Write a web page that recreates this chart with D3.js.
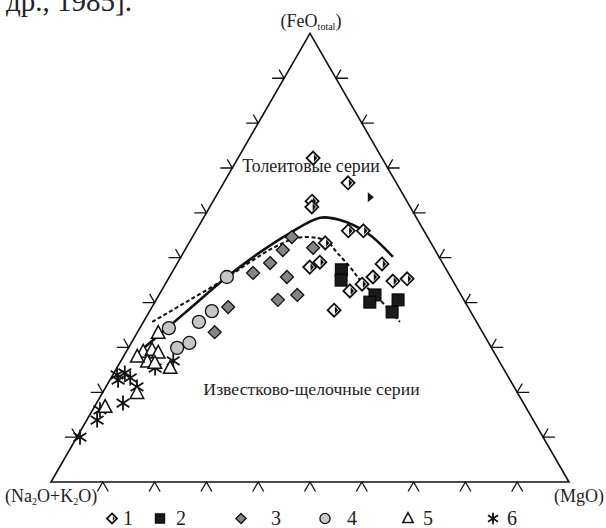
<!DOCTYPE html>
<html><head><meta charset="utf-8">
<script src="https://cdn.jsdelivr.net/npm/d3@7"></script>
<style>body{margin:0;background:#fff}svg{display:block}</style>
</head><body>
<svg id="c" width="606" height="528" font-family="'Liberation Serif', 'Times New Roman', 'DejaVu Serif', serif" fill="#222"></svg>
<script>
// Ternary AFM diagram: values are [FeO, MgO] in %, (Na2O+K2O) = 100 - FeO - MgO
const tickValues = [10,20,30,40,50,60,70,80,90];
const seriesNames = ["1","2","3","4","5","6"];
const solidCurve = [[29.7,2.9],[37.7,7.0],[45.7,11.1],[51.7,15.1],[55.5,18.4],[58.9,22.5],[58.4,26.6],[55.5,33.3],[50.2,40.9]];
const dashedCurve = [[35.7,1.7],[40.4,6.3],[45.3,11.0],[49.0,13.9],[52.2,16.8],[54.4,20.3],[54.4,24.2],[53.5,26.7],[51.1,29.7],[47.9,33.8],[44.4,37.9],[40.6,43.2],[35.7,49.5]];
const s1 = [[72.2,14.5],[66.7,24.0],[62.6,19.1],[61.3,19.7],[56.0,29.4],[56.0,32.3],[53.3,26.3],[47.9,26.0],[49.0,27.4],[48.6,39.6],[45.7,39.3],[44.1,38.0],[42.6,36.4],[44.8,43.6],[45.3,46.1],[38.3,35.5]];
const s1Fragment = [[63.5,29.8]];
const s2 = [[47.3,32.4],[45.0,33.5],[41.7,41.7],[40.1,41.5],[40.6,46.7],[37.9,46.9]];
const s3 = [[54.6,19.2],[51.7,18.9],[48.8,17.9],[46.6,15.7],[45.7,22.7],[52.2,24.5],[40.6,23.5],[41.7,26.7],[39.0,14.7],[33.4,14.9]];
const s4 = [[45.7,11.1],[38.1,12.0],[35.7,10.7],[34.3,5.6],[31.0,11.2],[29.9,9.4]];
const s5 = [[33.2,4.1],[29.0,3.3],[29.4,4.8],[28.8,6.3],[26.8,5.2],[26.5,6.8],[25.4,10.3],[27.9,2.7],[19.8,6.7],[16.7,2.1]];
const s6 = [[24.3,2.1],[22.7,1.6],[23.2,3.7],[21.2,6.0],[17.6,5.1],[16.1,1.4],[13.8,2.0],[10.0,0.6],[25.4,7.4],[27.0,10.1],[23.9,0.8]];

const svg = d3.select("#c");
const X = d3.scaleLinear().domain([0,100]).range([51,569]);
const Y = d3.scaleLinear().domain([0,100]).range([482,33.4]);
const px = d => X(d[1] + d[0]/2), py = d => Y(d[0]);

// triangle
const corners = [[0,0],[100,0],[0,100]]; // [F,M]
svg.append("path").attr("d", d3.line().x(px).y(py)(corners)+"Z")
  .attr("fill","none").attr("stroke","#111").attr("stroke-width",1.6);

// ticks
const tk = svg.append("g").attr("stroke","#111").attr("stroke-width",1.3).attr("fill","none");
const L1 = 12, L2 = 10, s3h = Math.sqrt(3)/2;
tickValues.forEach(t => {
  let p = [0,t], x = px(p), y = py(p);
  tk.append("path").attr("d",`M${x-5.5},${y+9.5}L${x},${y}L${x+5.5},${y+9.5}`);
  p = [t,0]; x = px(p); y = py(p);
  tk.append("path").attr("d",`M${x-L1},${y}L${x},${y}L${x-L2*0.5},${y-L2*s3h}`);
  p = [t,100-t]; x = px(p); y = py(p);
  tk.append("path").attr("d",`M${x+L1},${y}L${x},${y}L${x+L2*0.5},${y-L2*s3h}`);
});

// curves
const line = d3.line().x(px).y(py).curve(d3.curveCatmullRom.alpha(0.5));
svg.append("path").attr("d",line(solidCurve)).attr("fill","none").attr("stroke","#111").attr("stroke-width",2.6);
svg.append("path").attr("d",line(dashedCurve)).attr("fill","none").attr("stroke","#111").attr("stroke-width",2).attr("stroke-dasharray","4,2.5");

// field labels
svg.append("text").attr("x",311).attr("y",172).attr("text-anchor","middle").attr("font-size",17.8).text("Толеитовые серии");
svg.append("text").attr("x",311.5).attr("y",395).attr("text-anchor","middle").attr("font-size",17.7).text("Известково-щелочные серии");

function sym(g, type, x, y, k){
  k = k || 1;
  if(type==="1"){
    const r=6.5*k;
    g.append("path").attr("d",`M${x},${y-r}L${x+r},${y}L${x},${y+r}L${x-r},${y}Z`).attr("fill","#fff").attr("stroke","#111").attr("stroke-width",1.8);
    g.append("path").attr("d",`M${x+0.8},${y-r+2.6}L${x+r-2.4},${y}L${x+0.8},${y+r-2.6}Z`).attr("fill","#111");
  } else if(type==="1f"){
    g.append("path").attr("d",`M${x-2},${y-5}L${x+4},${y}L${x-2},${y+5}Z`).attr("fill","#111");
  } else if(type==="2"){
    const r=6*k;
    g.append("rect").attr("x",x-r).attr("y",y-r).attr("width",2*r).attr("height",2*r).attr("fill","#1a1a1a").attr("stroke","#000").attr("stroke-width",1);
  } else if(type==="3"){
    const r=6.5*k;
    g.append("path").attr("d",`M${x},${y-r}L${x+r},${y}L${x},${y+r}L${x-r},${y}Z`).attr("fill","#858585").attr("stroke","#111").attr("stroke-width",1.3);
  } else if(type==="4"){
    g.append("circle").attr("cx",x).attr("cy",y).attr("r",6.5*k).attr("fill","#c6c6c6").attr("stroke","#111").attr("stroke-width",1.3);
  } else if(type==="5"){
    const r=7.5*k;
    g.append("path").attr("d",`M${x},${y-r}L${x+r*0.9},${y+r*0.7}L${x-r*0.9},${y+r*0.7}Z`).attr("fill","#fff").attr("stroke","#111").attr("stroke-width",1.5);
  } else if(type==="6"){
    const r=7.5*k;
    g.append("path").attr("d",`M${x},${y-r}L${x},${y+r}M${x-r*0.85},${y-r*0.55}L${x+r*0.85},${y+r*0.55}M${x-r*0.85},${y+r*0.55}L${x+r*0.85},${y-r*0.55}`).attr("stroke","#111").attr("stroke-width",1.8).attr("fill","none");
  }
}

const pts = svg.append("g");
[["6",s6],["5",s5],["4",s4],["3",s3],["2",s2],["1",s1],["1f",s1Fragment]].forEach(([t,arr])=>{
  arr.forEach(d => sym(pts, t, px(d), py(d)));
});

// axis labels
const lf = svg.append("g").attr("font-size",18);
let tt = lf.append("text").attr("x",311).attr("y",27).attr("text-anchor","middle");
tt.append("tspan").text("(FeO");
tt.append("tspan").attr("font-size",10).attr("dy",3).text("total");
tt.append("tspan").attr("dy",-3).text(")");
tt = lf.append("text").attr("x",5).attr("y",502);
tt.append("tspan").text("(Na");
tt.append("tspan").attr("font-size",10).attr("dy",3).text("2");
tt.append("tspan").attr("dy",-3).text("O+K");
tt.append("tspan").attr("font-size",10).attr("dy",3).text("2");
tt.append("tspan").attr("dy",-3).text("O)");
lf.append("text").attr("x",604).attr("y",502).attr("text-anchor","end").text("(MgO)");

// caption fragment at top
svg.append("text").attr("x",6).attr("y",11).attr("font-size",29).text("др., 1985].");

// legend
const lg = svg.append("g");
const legSym = [112,160,241,325,408,493];
const legTxt = [128,181,276,352,428,512];
seriesNames.forEach((n,i)=>{
  sym(lg, n, legSym[i], 518.5, 0.78);
  lg.append("text").attr("x",legTxt[i]).attr("y",525).attr("text-anchor","middle").attr("font-size",20).text(n);
});
</script>
</body></html>
